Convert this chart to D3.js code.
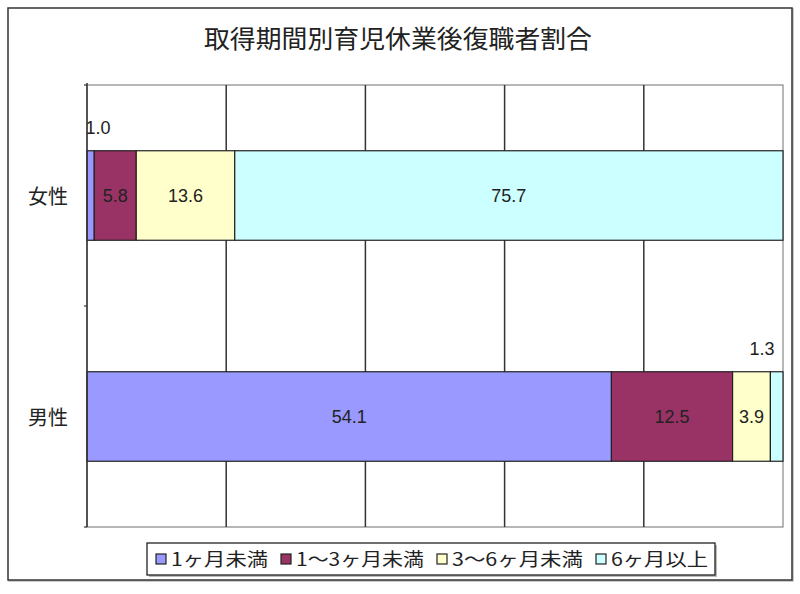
<!DOCTYPE html>
<html>
<head>
<meta charset="utf-8">
<script src="https://cdn.jsdelivr.net/npm/d3@7"></script>
<style>
  html, body { margin: 0; padding: 0; background: #fff; }
  svg { display: block; }
</style>
</head>
<body>
<svg id="chart" width="800" height="594"></svg>
<script>
// ---- data ----
const title = "取得期間別育児休業後復職者割合";
const categories = ["女性", "男性"];
const seriesNames = ["1ヶ月未満", "1～3ヶ月未満", "3～6ヶ月未満", "6ヶ月以上"];
const womenValues = [1.0, 5.8, 13.6, 75.7];
const menValues = [54.1, 12.5, 3.9, 1.3];
const gridTicks = [0, 0.2, 0.4, 0.6, 0.8, 1.0];

// ---- styles / layout ----
const colors = ["#9999FF", "#993366", "#FFFFCC", "#CCFFFF"];
const legendTextWidths = [97, 128, 131, 97];
const plot = { left: 87, top: 85, right: 783, bottom: 527 };
const cjk = "'Noto Sans CJK JP', 'Noto Sans CJK SC', sans-serif";
const num = "'Liberation Sans', Arial, sans-serif";

const svg = d3.select("#chart");

// outer frame
svg.append("rect").attr("x", 9).attr("y", 9).attr("width", 784).attr("height", 572)
  .attr("fill", "none").attr("stroke", "#bbb").attr("stroke-width", 1.5);
svg.append("rect").attr("x", 8).attr("y", 8).attr("width", 784).attr("height", 572)
  .attr("fill", "#fff").attr("stroke", "#333").attr("stroke-width", 1.5);

// title
svg.append("text").attr("x", 398).attr("y", 48).attr("text-anchor", "middle")
  .attr("font-family", cjk).attr("font-size", 25).attr("fill", "#222")
  .attr("textLength", 388).attr("lengthAdjust", "spacingAndGlyphs")
  .text(title);

// scales
const x = d3.scaleLinear().domain([0, 1]).range([plot.left, plot.right]);
const y = d3.scaleBand().domain(categories).range([plot.top, plot.bottom]).padding(0);
const barH = y.bandwidth() * 0.405;

// plot frame (light)
svg.append("rect").attr("x", plot.left).attr("y", plot.top)
  .attr("width", plot.right - plot.left).attr("height", plot.bottom - plot.top)
  .attr("fill", "#fff").attr("stroke", "#888").attr("stroke-width", 1.2);

// gridlines
svg.append("g").selectAll("line").data(gridTicks.filter(d => d > 0 && d < 1)).join("line")
  .attr("x1", d => x(d)).attr("x2", d => x(d))
  .attr("y1", plot.top).attr("y2", plot.bottom)
  .attr("stroke", "#333").attr("stroke-width", 1.5);

// data rows
const rows = categories.map((c, i) => {
  const vals = i === 0 ? womenValues : menValues;
  const o = { cat: c };
  seriesNames.forEach((s, j) => o[s] = vals[j]);
  return o;
});
const stack = d3.stack().keys(seriesNames).offset(d3.stackOffsetExpand);
const series = stack(rows);

const gBars = svg.append("g");
series.forEach((s, si) => {
  gBars.selectAll(null).data(s).join("rect")
    .attr("x", d => x(d[0]))
    .attr("y", d => y(d.data.cat) + (y.bandwidth() - barH) / 2)
    .attr("width", d => x(d[1]) - x(d[0]))
    .attr("height", barH)
    .attr("fill", colors[si])
    .attr("stroke", "#222").attr("stroke-width", 1.2);
});

// labels
const gLab = svg.append("g");
series.forEach((s, si) => {
  s.forEach(d => {
    const x0 = x(d[0]), x1 = x(d[1]);
    const w = x1 - x0;
    const val = d.data[s.key];
    const top = y(d.data.cat) + (y.bandwidth() - barH) / 2;
    const cy = y(d.data.cat) + y.bandwidth() / 2;
    let lx = (x0 + x1) / 2, ly;
    let baseline = "central";
    if (w < 20) {
      lx = Math.min(Math.max(lx, plot.left + 11), plot.right - 21);
      ly = top - 17;
      baseline = "auto";
    } else {
      ly = cy;
    }
    gLab.append("text").attr("x", lx).attr("y", ly)
      .attr("text-anchor", "middle").attr("dominant-baseline", baseline)
      .attr("font-family", num).attr("font-size", 18).attr("fill", "#222")
      .text(d3.format(".1f")(val));
  });
});

// left axis
svg.append("line").attr("x1", plot.left).attr("x2", plot.left)
  .attr("y1", plot.top - 2).attr("y2", plot.bottom)
  .attr("stroke", "#333").attr("stroke-width", 1.5);
const boundaries = [plot.top, y(categories[1]), plot.bottom];
svg.append("g").selectAll("line").data(boundaries).join("line")
  .attr("x1", plot.left - 3).attr("x2", plot.left)
  .attr("y1", d => d).attr("y2", d => d)
  .attr("stroke", "#333").attr("stroke-width", 1.2);

// category labels
svg.append("g").selectAll("text").data(categories).join("text")
  .attr("x", 68).attr("y", d => y(d) + y.bandwidth() / 2)
  .attr("text-anchor", "end").attr("dominant-baseline", "central")
  .attr("font-family", cjk).attr("font-size", 20).attr("fill", "#222")
  .text(d => d);

// legend
const lg = svg.append("g");
lg.append("rect").attr("x", 149).attr("y", 545).attr("width", 568).attr("height", 32)
  .attr("fill", "#bbb");
lg.append("rect").attr("x", 147).attr("y", 543).attr("width", 568).attr("height", 32)
  .attr("fill", "#fff").attr("stroke", "#222").attr("stroke-width", 1.3);
let lx = 156;
seriesNames.forEach((s, i) => {
  lg.append("rect").attr("x", lx).attr("y", 554).attr("width", 10).attr("height", 10)
    .attr("fill", colors[i]).attr("stroke", "#222").attr("stroke-width", 1.2);
  lg.append("text").attr("x", lx + 15).attr("y", 566)
    .attr("font-family", cjk).attr("font-size", 18).attr("fill", "#222")
    .attr("textLength", legendTextWidths[i]).attr("lengthAdjust", "spacingAndGlyphs")
    .text(s);
  lx += 15 + legendTextWidths[i] + 13;
});
</script>
</body>
</html>
